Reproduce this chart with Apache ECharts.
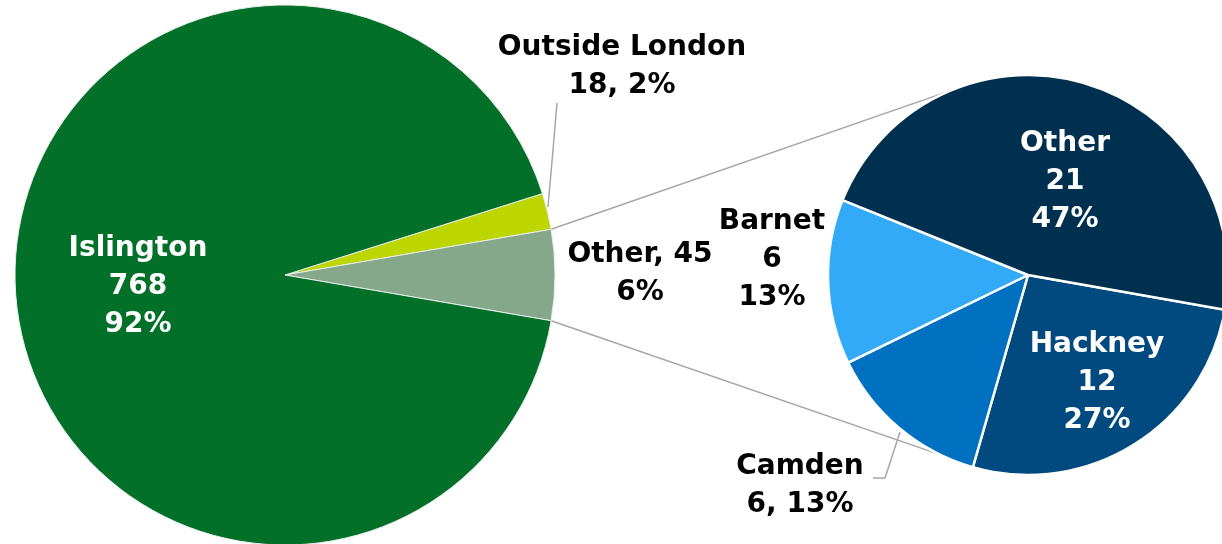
<!DOCTYPE html>
<html>
<head>
<meta charset="utf-8">
<script src="https://cdn.jsdelivr.net/npm/echarts@6/dist/echarts.min.js"></script>
<style>
  html, body { margin: 0; padding: 0; background: #fff; }
  #chart { width: 1222px; height: 544px; }
</style>
</head>
<body>
<div id="chart"></div>
<script>
// main pie
var mainNames = ['Outside London', 'Other', 'Islington'];
var mainValues = [18, 45, 768];
var mainPct = ['2%', '6%', '92%'];
var mainColors = ['#bdd600', '#85a88a', '#037029'];

// breakdown of "Other"
var subNames = ['Hackney', 'Camden', 'Barnet', 'Other'];
var subValues = [12, 6, 6, 21];
var subPct = ['27%', '13%', '13%', '47%'];
var subColors = ['#004a80', '#0070c0', '#33aaf8', '#00304f'];

var mainC = [285, 275], mainR = 270;
var subC = [1028, 275], subR = 200;

var total = mainValues.reduce(function (a, b) { return a + b; }, 0);
// put the "Other" slice centred on the right side
var mainStart = 360 * (mainValues[0] + mainValues[1] / 2) / total;
var otherHalf = 180 * mainValues[1] / total;

function pt(c, r, deg) {
    var a = deg * Math.PI / 180;
    return [c[0] + r * Math.cos(a), c[1] - r * Math.sin(a)];
}

var font = { fontFamily: 'DejaVu Sans', fontWeight: 'bold', fontSize: 28, lineHeight: 38 };

// where each label sits
var mainLabelPos = {
    'Outside London': { x: 622, y: 67, line: [[548, 207], [553, 150], [557, 103]] },
    'Other': { x: 640, y: 274 },
    'Islington': { x: 138, y: 287 }
};
var subLabelPos = {
    'Hackney': { x: 1097, y: 383 },
    'Camden': { x: 800, y: 486, line: [[900, 432], [885, 478], [873, 478]] },
    'Barnet': { x: 772, y: 260 },
    'Other': { x: 1065, y: 182 }
};

function layoutFrom(table, names) {
    return function (params) {
        var p = table[names[params.dataIndex]];
        var res = { x: p.x, y: p.y, align: 'center', verticalAlign: 'middle' };
        if (p.line) res.labelLinePoints = p.line;
        return res;
    };
}

var mainData = mainNames.map(function (n, i) {
    var d = { name: n, value: mainValues[i], itemStyle: { color: mainColors[i] } };
    if (n === 'Islington') {
        d.label = Object.assign({ position: 'inside', color: '#fff', align: 'center',
            formatter: n + '\n' + mainValues[i] + '\n' + mainPct[i] }, font);
        d.labelLine = { show: false };
    } else if (n === 'Outside London') {
        d.label = Object.assign({ position: 'outside', color: '#000', align: 'center',
            formatter: n + '\n' + mainValues[i] + ', ' + mainPct[i] }, font);
        d.labelLine = { show: true, lineStyle: { color: '#a6a6a6', width: 1.5 } };
    } else {
        d.label = Object.assign({ position: 'outside', color: '#000', align: 'center',
            formatter: n + ', ' + mainValues[i] + '\n' + mainPct[i] }, font);
        d.labelLine = { show: false };
    }
    return d;
});

var subData = subNames.map(function (n, i) {
    var d = { name: n, value: subValues[i], itemStyle: { color: subColors[i] } };
    if (n === 'Hackney' || n === 'Other') {
        d.label = Object.assign({ position: 'inside', color: '#fff', align: 'center',
            formatter: n + '\n' + subValues[i] + '\n' + subPct[i] }, font);
        d.labelLine = { show: false };
    } else if (n === 'Camden') {
        d.label = Object.assign({ position: 'outside', color: '#000', align: 'center',
            formatter: n + '\n' + subValues[i] + ', ' + subPct[i] }, font);
        d.labelLine = { show: true, lineStyle: { color: '#a6a6a6', width: 1.5 } };
    } else {
        d.label = Object.assign({ position: 'outside', color: '#000', align: 'center',
            formatter: n + '\n' + subValues[i] + '\n' + subPct[i] }, font);
        d.labelLine = { show: false };
    }
    return d;
});

// connector lines between the "Other" slice and the breakdown pie
var top1 = pt(mainC, mainR, otherHalf), top2 = pt(subC, subR, 113);
var bot1 = pt(mainC, mainR, -otherHalf), bot2 = pt(subC, subR, -102);

var myChart = echarts.init(document.getElementById('chart'));
var option = {
    animation: false,
    backgroundColor: '#fff',
    graphic: [
        { type: 'line', z: 0, shape: { x1: top1[0], y1: top1[1], x2: top2[0], y2: top2[1] },
          style: { stroke: '#a6a6a6', lineWidth: 1.5 } },
        { type: 'line', z: 0, shape: { x1: bot1[0], y1: bot1[1], x2: bot2[0], y2: bot2[1] },
          style: { stroke: '#a6a6a6', lineWidth: 1.5 } }
    ],
    series: [{
        type: 'pie',
        center: mainC,
        radius: mainR,
        startAngle: mainStart,
        clockwise: true,
        z: 2,
        itemStyle: { borderColor: '#e8eee8', borderWidth: 1 },
        emphasis: { disabled: true },
        labelLayout: layoutFrom(mainLabelPos, mainNames),
        data: mainData
    }, {
        type: 'pie',
        center: subC,
        radius: subR,
        startAngle: -10,
        clockwise: true,
        z: 2,
        itemStyle: { borderColor: '#fff', borderWidth: 2.5 },
        emphasis: { disabled: true },
        labelLayout: layoutFrom(subLabelPos, subNames),
        data: subData
    }]
};
myChart.setOption(option);
</script>
</body>
</html>
